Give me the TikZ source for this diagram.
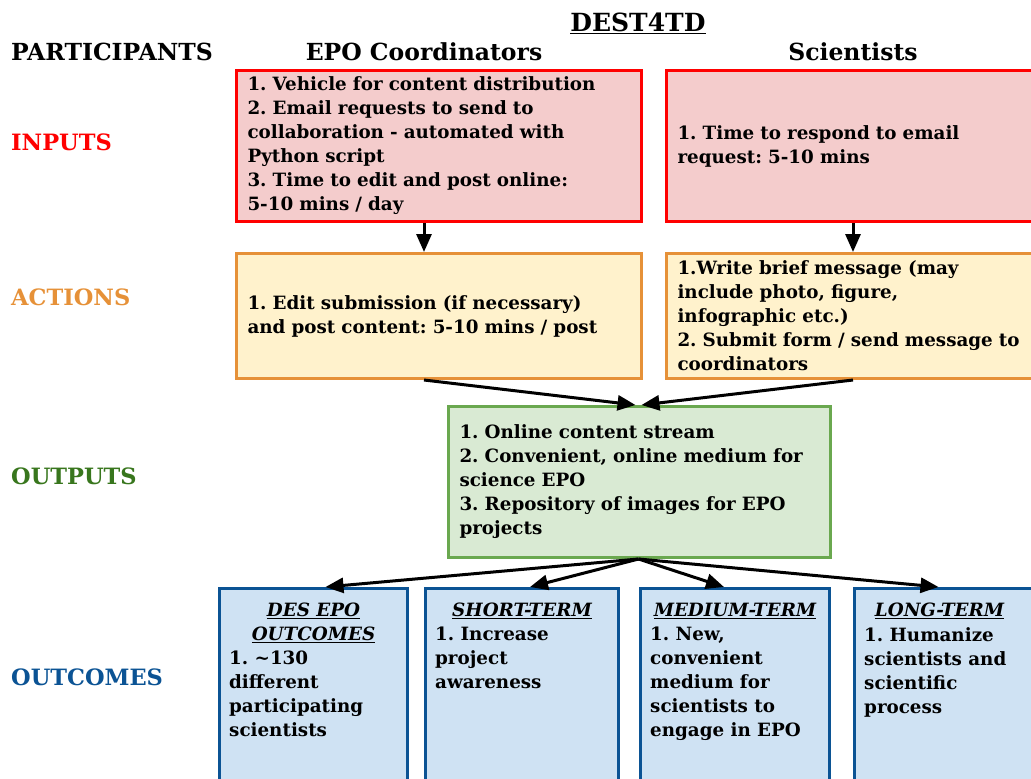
\documentclass[tikz,border=0pt]{standalone}
\usepackage{fontspec}
\setmainfont{DejaVu Serif}
\usetikzlibrary{arrows.meta,calc}
\definecolor{inbord}{HTML}{FF0000}
\definecolor{infill}{HTML}{F4CCCC}
\definecolor{acbord}{HTML}{E69138}
\definecolor{acfill}{HTML}{FFF2CC}
\definecolor{outbord}{HTML}{6AA84F}
\definecolor{outfill}{HTML}{D9EAD3}
\definecolor{outtext}{HTML}{38761D}
\definecolor{ocbord}{HTML}{0B5394}
\definecolor{ocfill}{HTML}{CFE2F3}
\definecolor{octext}{HTML}{0B5394}
\frenchspacing
\begin{document}
\begin{tikzpicture}[x=1pt,y=-1pt,
  body/.style={font=\bfseries\fontsize{18.3}{24}\selectfont},
  boxbase/.style={body, line width=3pt, inner xsep=11pt, inner ysep=0pt, anchor=north west, align=left},
  inbox/.style={boxbase, draw=inbord, fill=infill},
  acbox/.style={boxbase, draw=acbord, fill=acfill},
  outbox/.style={boxbase, draw=outbord, fill=outfill},
  ocbox/.style={boxbase, draw=ocbord, fill=ocfill},
  octitle/.style={body, inner sep=0pt, anchor=north, align=center},
  ocbody/.style={body, inner sep=0pt, anchor=north west, align=left},
  rowlabel/.style={font=\bfseries\fontsize{22.5}{26}\selectfont, anchor=west, inner sep=0pt},
  header/.style={font=\bfseries\fontsize{23.5}{26}\selectfont, inner sep=0pt},
  arr/.style={line width=3pt, -{Triangle[length=18pt,width=15pt]}}
]
\useasboundingbox (0,0) rectangle (1031,779);

% headers
\node[header, font=\bfseries\fontsize{25}{26}\selectfont] (title) at (638,23) {\underline{DEST4TD}};
\node[header] (part) [anchor=west] at (11,52) {PARTICIPANTS};
\node[header] (epo) at (424,52) {EPO Coordinators};
\node[header] (sci) at (853,52) {Scientists};

% row labels
\node[rowlabel, text=inbord] (lin) at (11,142) {INPUTS};
\node[rowlabel, text=acbord] (lac) at (11,297) {ACTIONS};
\node[rowlabel, text=outtext] (lout) at (11,476) {OUTPUTS};
\node[rowlabel, text=octext] (loc) at (11,677) {OUTCOMES};

% inputs
\node[inbox, text width=383, minimum height=151] (in1) at (235,69)
  {1. Vehicle for content distribution\\2. Email requests to send to\\collaboration - automated with\\Python script\\3. Time to edit and post online:\\5-10 mins / day};
\node[inbox, text width=383, minimum height=151] (in2) at (665,69)
  {1. Time to respond to email\\request: 5-10 mins};

% actions
\node[acbox, text width=383, minimum height=125] (ac1) at (235,252)
  {1. Edit submission (if necessary)\\and post content: 5-10 mins / post};
\node[acbox, text width=383, minimum height=125] (ac2) at (665,252)
  {1.Write brief message (may\\include photo, figure,\\infographic etc.)\\2. Submit form / send message to\\coordinators};

% outputs
\node[outbox, text width=360, minimum height=151] (out) at (447,405)
  {1. Online content stream\\2. Convenient, online medium for\\science EPO\\3. Repository of images for EPO\\projects};

% outcome boxes
\node[ocbox, text width=166, minimum height=240] (oc1) at (218,587) {};
\node[ocbox, text width=171, minimum height=240] (oc2) at (424,587) {};
\node[ocbox, text width=167, minimum height=240] (oc3) at (639,587) {};
\node[ocbox, text width=178, minimum height=240] (oc4) at (853,587) {};

\node[octitle] (t1) at ($(oc1.north)+(0,16)$) {\itshape\underline{DES EPO}\\\itshape\underline{OUTCOMES}};
\node[ocbody] (b1) at ($(oc1.north west)+(11,64)$) {1. \textasciitilde130\\different\\participating\\scientists};
\node[octitle] (t2) at ($(oc2.north)+(0,16)$) {\itshape\underline{SHORT-TERM}};
\node[ocbody] (b2) at ($(oc2.north west)+(11,40)$) {1. Increase\\project\\awareness};
\node[octitle] (t3) at ($(oc3.north)+(0,16)$) {\itshape\underline{MEDIUM-TERM}};
\node[ocbody] (b3) at ($(oc3.north west)+(11,40)$) {1. New,\\convenient\\medium for\\scientists to\\engage in EPO};
\node[octitle] (t4) at ($(oc4.north)+(-15,16)$) {\itshape\underline{LONG-TERM}};
\node[ocbody] (b4) at ($(oc4.north west)+(11,40)$) {1. Humanize\\scientists and\\scientific\\process};

% connectors
\draw[arr] (in1.south -| epo.south) -- (ac1.north -| epo.south);
\draw[arr] (in2.south -| sci.south) -- (ac2.north -| sci.south);
\draw[arr] (ac1.south -| epo.south) -- ($(out.north)+(-4,0)$);
\draw[arr] (ac2.south -| sci.south) -- ($(out.north)+(2,0)$);
\draw[arr] ($(out.south)+(-1,0)$) -- ($(oc1.north)+(12,0)$);
\draw[arr] ($(out.south)+(-1,0)$) -- ($(oc2.north)+(8,0)$);
\draw[arr] ($(out.south)+(-1,0)$) -- ($(oc3.north)+(-11,0)$);
\draw[arr] ($(out.south)+(-1,0)$) -- ($(oc4.north)+(-16,0)$);
\end{tikzpicture}
\end{document}
